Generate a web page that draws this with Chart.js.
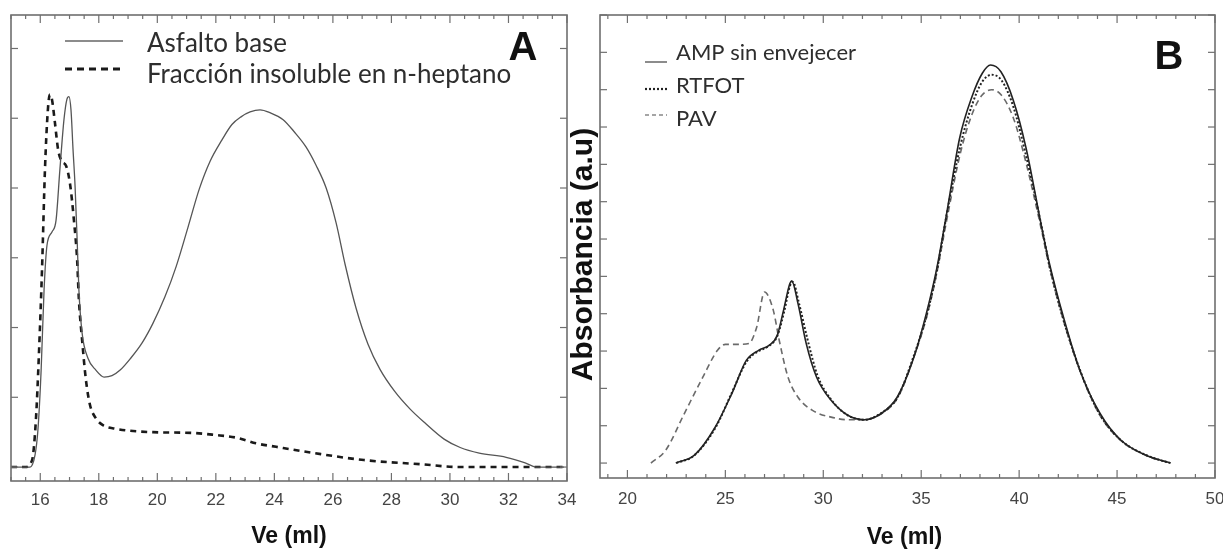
<!DOCTYPE html>
<html>
<head>
<meta charset="utf-8">
<script src="https://cdn.jsdelivr.net/npm/chart.js@4.4.1/dist/chart.umd.min.js"></script>
<style>
  body { margin: 0; background: #fff; width: 1223px; height: 551px; overflow: hidden; position: relative; }
  canvas { position: absolute; top: 0; }
  #chartA { left: 0; }
  #chartB { left: 560px; }
</style>
</head>
<body>
<canvas id="chartA" width="590" height="551"></canvas>
<canvas id="chartB" width="663" height="551"></canvas>
<script>
// Panel A - asfalto base vs fraccion insoluble
const aBaseX = [15, 15.65, 15.82, 15.92, 16.03, 16.13, 16.23, 16.4, 16.54, 16.67, 16.81, 16.91, 16.98, 17.05, 17.12, 17.19, 17.26, 17.32, 17.43, 17.63, 17.9, 18.18, 18.45, 18.73, 19.07, 19.48, 19.85, 20.26, 20.64, 21.05, 21.43, 21.8, 22.21, 22.55, 22.86, 23.17, 23.51, 23.85, 24.3, 24.67, 25.08, 25.42, 25.77, 26.11, 26.42, 26.79, 27.2, 27.61, 28.12, 28.64, 29.15, 29.8, 30.35, 31.0, 31.92, 32.57, 32.94, 33.9];
const aBaseY = [0, 0, 0.17, 0.53, 1.39, 2.54, 3.18, 3.37, 3.54, 4.26, 4.98, 5.27, 5.31, 5.12, 4.55, 4.02, 3.26, 2.54, 1.92, 1.56, 1.39, 1.29, 1.31, 1.39, 1.55, 1.78, 2.06, 2.44, 2.87, 3.44, 3.98, 4.38, 4.69, 4.91, 5.02, 5.09, 5.12, 5.08, 4.98, 4.81, 4.59, 4.33, 4.0, 3.5, 2.9, 2.28, 1.76, 1.4, 1.08, 0.83, 0.63, 0.4, 0.28, 0.2, 0.14, 0.06, 0, 0];
const aInsolX = [15, 15.48, 15.72, 15.85, 15.96, 16.06, 16.16, 16.26, 16.33, 16.4, 16.5, 16.61, 16.74, 16.88, 17.02, 17.15, 17.26, 17.32, 17.43, 17.56, 17.7, 17.9, 18.14, 18.55, 19.85, 21.15, 21.97, 22.72, 23.37, 24.06, 25.36, 27.06, 29.01, 30.35, 33.9];
const aInsolY = [0, 0, 0.1, 0.67, 1.68, 2.83, 4.26, 5.12, 5.34, 5.27, 4.94, 4.55, 4.38, 4.32, 4.05, 3.54, 2.97, 2.4, 1.82, 1.25, 0.89, 0.7, 0.6, 0.55, 0.5, 0.49, 0.46, 0.42, 0.34, 0.29, 0.2, 0.1, 0.04, 0, 0];
const aTickLabels = [16, 18, 20, 22, 24, 26, 28, 30, 32, 34];

// Panel B - AMP sin envejecer, RTFOT, PAV
const bAmpX = [22.47, 23.42, 24.48, 25.33, 26.07, 26.7, 27.23, 27.65, 27.97, 28.29, 28.39, 28.71, 29.13, 29.66, 30.4, 31.25, 32.09, 32.94, 33.78, 34.63, 35.26, 35.79, 36.32, 36.96, 37.59, 38.12, 38.54, 39.07, 39.7, 40.34, 41.18, 41.5, 42.24, 43.09, 44.14, 45.2, 46.47, 47.74];
const bAmpY = [0, 0.21, 0.96, 1.86, 2.75, 3.02, 3.15, 3.42, 4.09, 4.8, 4.88, 4.27, 3.2, 2.3, 1.68, 1.28, 1.16, 1.32, 1.77, 2.84, 4.0, 5.2, 6.75, 8.7, 9.81, 10.44, 10.66, 10.48, 9.72, 8.47, 6.24, 5.45, 3.95, 2.5, 1.32, 0.61, 0.21, 0];
const bRtfotX = [22.5, 23.4, 24.5, 25.3, 26.1, 26.7, 27.2, 27.65, 28.0, 28.3, 28.45, 28.75, 29.2, 29.7, 30.4, 31.25, 32.1, 32.9, 33.8, 34.6, 35.3, 35.8, 36.3, 37.0, 37.6, 38.1, 38.6, 39.1, 39.7, 40.3, 41.2, 41.5, 42.2, 43.1, 44.1, 45.2, 46.5, 47.7];
const bRtfotY = [0, 0.2, 0.95, 1.85, 2.73, 3.0, 3.13, 3.4, 4.05, 4.75, 4.85, 4.3, 3.3, 2.35, 1.7, 1.28, 1.16, 1.32, 1.77, 2.84, 4.0, 5.15, 6.65, 8.5, 9.6, 10.2, 10.4, 10.25, 9.55, 8.35, 6.2, 5.4, 3.95, 2.5, 1.32, 0.61, 0.21, 0];
const bPavX = [21.2, 21.95, 22.9, 23.85, 24.6, 25.0, 25.75, 26.2, 26.6, 27.0, 27.45, 27.75, 28.2, 28.7, 29.45, 30.4, 31.25, 32.1, 32.9, 33.8, 34.6, 35.3, 35.8, 36.3, 37.0, 37.6, 38.1, 38.6, 39.1, 39.7, 40.3, 41.2, 41.5, 42.2, 43.1, 44.1, 45.2, 46.5, 47.7];
const bPavY = [0, 0.34, 1.32, 2.3, 3.02, 3.18, 3.18, 3.2, 3.64, 4.58, 4.09, 3.29, 2.3, 1.77, 1.41, 1.23, 1.16, 1.16, 1.3, 1.75, 2.8, 3.95, 5.1, 6.5, 8.3, 9.35, 9.85, 10.0, 9.85, 9.25, 8.15, 6.1, 5.35, 3.93, 2.48, 1.3, 0.6, 0.2, 0];
const bTickLabels = [20, 25, 30, 35, 40, 45, 50];

function pts(xs, ys) {
  return xs.map((x, i) => ({ x, y: ys[i] }));
}

function line(ctx, x0, y0, x1, y1) {
  ctx.beginPath(); ctx.moveTo(x0, y0); ctx.lineTo(x1, y1); ctx.stroke();
}

// frame, inward ticks, labels, titles and legend
const framePlugin = {
  id: 'frame',
  afterDraw(chart, args, o) {
    const { ctx, chartArea: a, scales: { x, y } } = chart;
    ctx.save();
    ctx.setLineDash([]);
    ctx.strokeStyle = '#6f6f6f';
    ctx.lineWidth = 1.6;
    ctx.strokeRect(a.left, a.top, a.right - a.left, a.bottom - a.top);

    ctx.lineWidth = 1.2;
    const n0 = Math.ceil(x.min / o.xMinor), n1 = Math.floor(x.max / o.xMinor);
    for (let i = n0; i <= n1; i++) {
      const v = i * o.xMinor;
      const px = x.getPixelForValue(v);
      const major = Math.abs(v / o.xMajor - Math.round(v / o.xMajor)) < 1e-6;
      const len = major ? 8 : 4;
      line(ctx, px, a.bottom, px, a.bottom - len);
      line(ctx, px, a.top, px, a.top + len);
    }
    for (let v = Math.ceil(y.min); v <= y.max; v++) {
      const py = y.getPixelForValue(v);
      line(ctx, a.left, py, a.left + 7, py);
      line(ctx, a.right, py, a.right - 7, py);
    }

    ctx.fillStyle = '#444';
    ctx.font = '17px "Liberation Sans", Arial, sans-serif';
    ctx.textAlign = 'center';
    ctx.textBaseline = 'middle';
    o.xLabels.forEach(v => ctx.fillText(String(v), x.getPixelForValue(v), a.bottom + o.labelGap));

    ctx.fillStyle = '#111';
    ctx.font = 'bold 23px "Liberation Sans", Arial, sans-serif';
    ctx.fillText(o.xTitle, (a.left + a.right) / 2 + o.xTitleShift, a.bottom + o.titleGap);

    if (o.yTitle) {
      ctx.save();
      ctx.translate(a.left - 16, (a.top + a.bottom) / 2 + 8);
      ctx.rotate(-Math.PI / 2);
      ctx.font = 'bold 30px "Liberation Sans", Arial, sans-serif';
      ctx.fillText(o.yTitle, 0, 0);
      ctx.restore();
    }

    ctx.font = 'bold 40px "Liberation Sans", Arial, sans-serif';
    ctx.fillText(o.tag, a.right - o.tagDx, a.top + o.tagDy);

    ctx.textAlign = 'left';
    ctx.textBaseline = 'alphabetic';
    ctx.font = o.legendFont;
    o.legend.forEach(it => {
      ctx.strokeStyle = it.color;
      ctx.lineWidth = it.width;
      ctx.setLineDash(it.dash);
      line(ctx, a.left + o.legX0, a.top + it.ly, a.left + o.legX1, a.top + it.ly);
      ctx.setLineDash([]);
      ctx.fillStyle = '#2e2e2e';
      ctx.fillText(it.text, a.left + o.legText, a.top + it.ty);
    });
    ctx.restore();
  }
};

function baseOptions(xmin, xmax, ymin, ymax, pad, frame) {
  return {
    responsive: false,
    animation: false,
    layout: { padding: pad },
    elements: { point: { radius: 0 } },
    scales: {
      x: { type: 'linear', min: xmin, max: xmax, display: false },
      y: { type: 'linear', min: ymin, max: ymax, display: false }
    },
    plugins: { legend: { display: false }, tooltip: { enabled: false }, frame }
  };
}

new Chart(document.getElementById('chartA'), {
  type: 'line',
  data: {
    datasets: [
      { label: 'Asfalto base', data: pts(aBaseX, aBaseY), borderColor: '#555', borderWidth: 1.3, cubicInterpolationMode: 'monotone' },
      { label: 'Fracción insoluble en n-heptano', data: pts(aInsolX, aInsolY), borderColor: '#1a1a1a', borderWidth: 2.6, borderDash: [6, 5], cubicInterpolationMode: 'monotone' }
    ]
  },
  options: baseOptions(15, 34, -0.2, 6.48, { left: 11, right: 23, top: 15, bottom: 70 }, {
    xMinor: 0.5, xMajor: 2, xLabels: aTickLabels, labelGap: 19, xTitle: 'Ve (ml)', xTitleShift: 0, titleGap: 56,
    tag: 'A', tagDx: 44, tagDy: 34,
    legendFont: '26px Lato, "Open Sans", sans-serif', legX0: 54, legX1: 112, legText: 136,
    legend: [
      { text: 'Asfalto base', ly: 26, ty: 37, color: '#666', width: 1.3, dash: [] },
      { text: 'Fracción insoluble en n-heptano', ly: 54, ty: 68, color: '#1a1a1a', width: 3, dash: [7, 5] }
    ]
  }),
  plugins: [framePlugin]
});

new Chart(document.getElementById('chartB'), {
  type: 'line',
  data: {
    datasets: [
      { label: 'AMP sin envejecer', data: pts(bAmpX, bAmpY), borderColor: '#222', borderWidth: 1.6, cubicInterpolationMode: 'monotone' },
      { label: 'RTFOT', data: pts(bRtfotX, bRtfotY), borderColor: '#222', borderWidth: 2, borderDash: [2, 2], cubicInterpolationMode: 'monotone' },
      { label: 'PAV', data: pts(bPavX, bPavY), borderColor: '#6a6a6a', borderWidth: 1.6, borderDash: [6, 4], cubicInterpolationMode: 'monotone' }
    ]
  },
  options: baseOptions(18.6, 50, -0.4, 12.0, { left: 40, right: 8, top: 15, bottom: 73 }, {
    xMinor: 1, xMajor: 5, xLabels: bTickLabels, labelGap: 21, xTitle: 'Ve (ml)', xTitleShift: -3, titleGap: 60,
    yTitle: 'Absorbancia (a.u)',
    tag: 'B', tagDx: 46, tagDy: 43,
    legendFont: '22px Lato, "Open Sans", sans-serif', legX0: 45, legX1: 67, legText: 76,
    legend: [
      { text: 'AMP sin envejecer', ly: 47, ty: 45, color: '#666', width: 1.5, dash: [] },
      { text: 'RTFOT', ly: 74, ty: 78, color: '#222', width: 2.2, dash: [2, 2] },
      { text: 'PAV', ly: 100, ty: 111, color: '#888', width: 1.5, dash: [4, 3] }
    ]
  }),
  plugins: [framePlugin]
});
</script>
</body>
</html>
